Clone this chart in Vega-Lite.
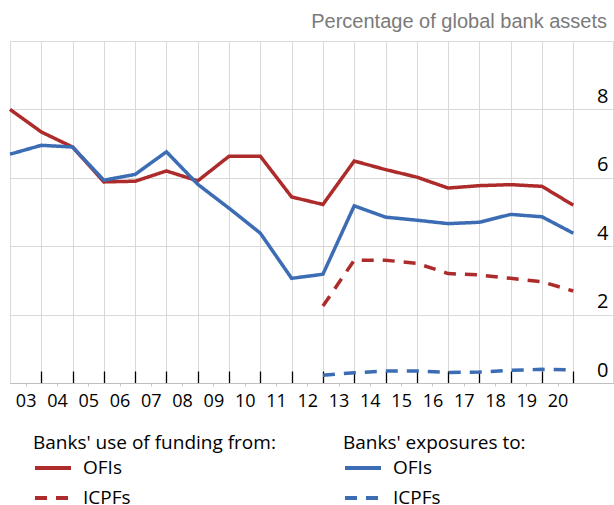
{
  "$schema": "https://vega.github.io/schema/vega-lite/v6.json",
  "width": 603,
  "height": 342,
  "autosize": {"type": "none"},
  "padding": {"left": 10, "top": 41, "right": 1, "bottom": 122},
  "background": "white",
  "config": {
    "view": {"stroke": "#d9d9d9", "strokeWidth": 1},
    "font": "Open Sans",
    "legend": {
      "orient": "none",
      "direction": "vertical",
      "titleFont": "Open Sans",
      "titleFontSize": 19,
      "titleFontWeight": "normal",
      "titleColor": "#000",
      "titleLimit": 400,
      "labelFont": "Open Sans",
      "labelFontSize": 19,
      "labelColor": "#000",
      "labelLimit": 300,
      "symbolType": "stroke",
      "symbolSize": 1296,
      "symbolStrokeWidth": 4,
      "labelOffset": 10,
      "titlePadding": -5,
      "rowPadding": -5,
      "padding": 0
    }
  },
  "title": {
    "text": "Percentage of global bank assets",
    "anchor": "end",
    "frame": "group",
    "font": "Liberation Sans",
    "fontSize": 20,
    "fontWeight": "normal",
    "color": "#7a7a7a",
    "baseline": "alphabetic",
    "offset": 12,
    "dx": -6,
    "dy": 19
  },
  "data": {
    "values": [
      {"year": 2003, "value": 8.0, "group": "funding", "type": "OFIs"},
      {"year": 2004, "value": 7.34, "group": "funding", "type": "OFIs"},
      {"year": 2005, "value": 6.9, "group": "funding", "type": "OFIs"},
      {"year": 2006, "value": 5.88, "group": "funding", "type": "OFIs"},
      {"year": 2007, "value": 5.9, "group": "funding", "type": "OFIs"},
      {"year": 2008, "value": 6.2, "group": "funding", "type": "OFIs"},
      {"year": 2009, "value": 5.91, "group": "funding", "type": "OFIs"},
      {"year": 2010, "value": 6.63, "group": "funding", "type": "OFIs"},
      {"year": 2011, "value": 6.63, "group": "funding", "type": "OFIs"},
      {"year": 2012, "value": 5.44, "group": "funding", "type": "OFIs"},
      {"year": 2013, "value": 5.22, "group": "funding", "type": "OFIs"},
      {"year": 2014, "value": 6.49, "group": "funding", "type": "OFIs"},
      {"year": 2015, "value": 6.24, "group": "funding", "type": "OFIs"},
      {"year": 2016, "value": 6.02, "group": "funding", "type": "OFIs"},
      {"year": 2017, "value": 5.7, "group": "funding", "type": "OFIs"},
      {"year": 2018, "value": 5.77, "group": "funding", "type": "OFIs"},
      {"year": 2019, "value": 5.8, "group": "funding", "type": "OFIs"},
      {"year": 2020, "value": 5.75, "group": "funding", "type": "OFIs"},
      {"year": 2021, "value": 5.2, "group": "funding", "type": "OFIs"},
      {"year": 2013, "value": 2.25, "group": "funding", "type": "ICPFs"},
      {"year": 2014, "value": 3.59, "group": "funding", "type": "ICPFs"},
      {"year": 2015, "value": 3.59, "group": "funding", "type": "ICPFs"},
      {"year": 2016, "value": 3.5, "group": "funding", "type": "ICPFs"},
      {"year": 2017, "value": 3.2, "group": "funding", "type": "ICPFs"},
      {"year": 2018, "value": 3.16, "group": "funding", "type": "ICPFs"},
      {"year": 2019, "value": 3.06, "group": "funding", "type": "ICPFs"},
      {"year": 2020, "value": 2.96, "group": "funding", "type": "ICPFs"},
      {"year": 2021, "value": 2.69, "group": "funding", "type": "ICPFs"},
      {"year": 2003, "value": 6.69, "group": "exposure", "type": "OFIs"},
      {"year": 2004, "value": 6.95, "group": "exposure", "type": "OFIs"},
      {"year": 2005, "value": 6.9, "group": "exposure", "type": "OFIs"},
      {"year": 2006, "value": 5.93, "group": "exposure", "type": "OFIs"},
      {"year": 2007, "value": 6.1, "group": "exposure", "type": "OFIs"},
      {"year": 2008, "value": 6.76, "group": "exposure", "type": "OFIs"},
      {"year": 2009, "value": 5.81, "group": "exposure", "type": "OFIs"},
      {"year": 2010, "value": 5.11, "group": "exposure", "type": "OFIs"},
      {"year": 2011, "value": 4.38, "group": "exposure", "type": "OFIs"},
      {"year": 2012, "value": 3.06, "group": "exposure", "type": "OFIs"},
      {"year": 2013, "value": 3.18, "group": "exposure", "type": "OFIs"},
      {"year": 2014, "value": 5.18, "group": "exposure", "type": "OFIs"},
      {"year": 2015, "value": 4.85, "group": "exposure", "type": "OFIs"},
      {"year": 2016, "value": 4.76, "group": "exposure", "type": "OFIs"},
      {"year": 2017, "value": 4.66, "group": "exposure", "type": "OFIs"},
      {"year": 2018, "value": 4.7, "group": "exposure", "type": "OFIs"},
      {"year": 2019, "value": 4.93, "group": "exposure", "type": "OFIs"},
      {"year": 2020, "value": 4.86, "group": "exposure", "type": "OFIs"},
      {"year": 2021, "value": 4.38, "group": "exposure", "type": "OFIs"},
      {"year": 2013, "value": 0.23, "group": "exposure", "type": "ICPFs"},
      {"year": 2014, "value": 0.3, "group": "exposure", "type": "ICPFs"},
      {"year": 2015, "value": 0.35, "group": "exposure", "type": "ICPFs"},
      {"year": 2016, "value": 0.35, "group": "exposure", "type": "ICPFs"},
      {"year": 2017, "value": 0.31, "group": "exposure", "type": "ICPFs"},
      {"year": 2018, "value": 0.32, "group": "exposure", "type": "ICPFs"},
      {"year": 2019, "value": 0.37, "group": "exposure", "type": "ICPFs"},
      {"year": 2020, "value": 0.4, "group": "exposure", "type": "ICPFs"},
      {"year": 2021, "value": 0.38, "group": "exposure", "type": "ICPFs"}
    ]
  },
  "encoding": {
    "y": {
      "field": "value",
      "type": "quantitative",
      "scale": {"domain": [0, 10], "nice": false, "zero": false},
      "axis": {
        "orient": "right",
        "values": [0, 2, 4, 6, 8],
        "grid": true,
        "gridColor": "#d9d9d9",
        "gridWidth": 1,
        "domain": false,
        "ticks": false,
        "labelAlign": "right",
        "labelBaseline": "bottom",
        "labelPadding": -5,
        "labelOffset": -3,
        "labelFont": "Open Sans",
        "labelFontSize": 20,
        "labelColor": "#000",
        "title": null
      }
    }
  },
  "layer": [
    {
      "transform": [{"filter": "datum.group == 'funding'"}],
      "mark": {"type": "line", "color": "#AE2B2B", "strokeWidth": 3.5, "strokeCap": "butt"},
      "encoding": {
        "x": {
          "field": "year",
          "type": "quantitative",
          "scale": {"domain": [2003, 2022.27], "nice": false, "zero": false},
          "axis": {
            "orient": "bottom",
            "values": [2004, 2005, 2006, 2007, 2008, 2009, 2010, 2011, 2012, 2013, 2014, 2015, 2016, 2017, 2018, 2019, 2020, 2021],
            "grid": true,
            "gridColor": "#d9d9d9",
            "gridWidth": 1,
            "labels": false,
            "ticks": true,
            "tickColor": "#000",
            "tickSize": -12,
            "tickWidth": 1.3,
            "domain": true,
            "domainColor": "#bfbfbf",
            "title": null
          }
        },
        "strokeDash": {
          "field": "type",
          "type": "nominal",
          "scale": {"domain": ["OFIs", "ICPFs"], "range": [[1, 0], [12, 9]]},
          "legend": {
            "title": "Banks' use of funding from:",
            "legendX": 23,
            "legendY": 393,
            "symbolStrokeColor": "#AE2B2B"
          }
        }
      }
    },
    {
      "transform": [{"filter": "datum.group == 'exposure'"}],
      "mark": {"type": "line", "color": "#3B6CB4", "strokeWidth": 3.5, "strokeCap": "butt"},
      "encoding": {
        "x": {
          "field": "year",
          "type": "quantitative",
          "axis": {
            "orient": "bottom",
            "values": [2003.5, 2004.5, 2005.5, 2006.5, 2007.5, 2008.5, 2009.5, 2010.5, 2011.5, 2012.5, 2013.5, 2014.5, 2015.5, 2016.5, 2017.5, 2018.5, 2019.5, 2020.5],
            "grid": false,
            "domain": false,
            "ticks": true,
            "tickSize": 3,
            "tickColor": "#c8c8c8",
            "labelExpr": "slice(toString(floor(datum.value)), 2)",
            "labelFont": "Open Sans",
            "labelFontSize": 18,
            "labelColor": "#000",
            "labelPadding": 6,
            "title": null
          }
        },
        "strokeDash": {
          "field": "type",
          "type": "nominal",
          "scale": {"domain": ["OFIs", "ICPFs"], "range": [[1, 0], [12, 9]]},
          "legend": {
            "title": "Banks' exposures to:",
            "legendX": 333,
            "legendY": 393,
            "symbolStrokeColor": "#3B6CB4"
          }
        }
      }
    }
  ],
  "resolve": {
    "scale": {"strokeDash": "independent"},
    "legend": {"strokeDash": "independent"},
    "axis": {"x": "independent"}
  }
}
